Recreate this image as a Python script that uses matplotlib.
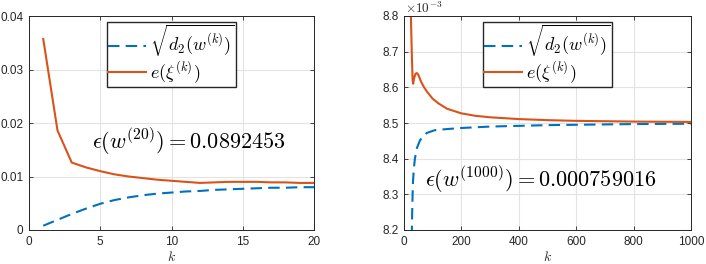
import matplotlib
matplotlib.use("Agg")
import matplotlib.pyplot as plt
from matplotlib.ticker import FuncFormatter

plt.rcParams['font.family'] = ['Liberation Sans', 'DejaVu Sans']
plt.rcParams['mathtext.fontset'] = 'cm'

# ---- left panel data (20 iterations) ----
k_left = list(range(1, 21))
d2_left = [0.0008, 0.0019, 0.0030, 0.0040, 0.0049, 0.0056, 0.0061, 0.0065, 0.0068, 0.0070,
           0.0072, 0.0073, 0.0075, 0.0076, 0.0077, 0.0078, 0.0079, 0.0079, 0.0080, 0.0080]
e_left = [0.0357, 0.0186, 0.0126, 0.0117, 0.0110, 0.0104, 0.0100, 0.0097, 0.0094, 0.0092,
          0.0090, 0.0088, 0.0089, 0.0090, 0.0090, 0.0090, 0.0089, 0.0089, 0.0088, 0.0088]

# ---- right panel data (1000 iterations, values in units of 1e-3) ----
k_right_d2 = [27, 29, 31, 34, 38, 45, 56, 79, 108, 150, 200, 250, 300, 400, 500, 600, 800, 1000]
d2_right = [8.18, 8.27, 8.33, 8.37, 8.40, 8.43, 8.452, 8.472, 8.480, 8.483, 8.486, 8.488,
            8.490, 8.492, 8.494, 8.495, 8.497, 8.498]
k_right_e = [21, 24, 27, 30, 32, 35, 40, 45, 50, 60, 70, 80, 100, 120, 150, 200, 250, 300,
             400, 500, 600, 800, 1000]
e_right = [8.95, 8.80, 8.70, 8.62, 8.61, 8.625, 8.638, 8.640, 8.635, 8.615, 8.600, 8.588,
           8.568, 8.555, 8.540, 8.527, 8.520, 8.516, 8.511, 8.508, 8.506, 8.504, 8.503]

left_xticks = [0, 5, 10, 15, 20]
left_yticks = [0, 0.01, 0.02, 0.03, 0.04]
right_xticks = [0, 200, 400, 600, 800, 1000]
right_yticks = [8.2, 8.3, 8.4, 8.5, 8.6, 8.7, 8.8]

BLUE = '#0072BD'
RED = '#D95319'
AXC = '#262626'
DASH = (5.5, 3.0)

fig = plt.figure(figsize=(7.06, 2.64), dpi=100)
ax1 = fig.add_axes([29/706, 34/264, 285/706, 214/264])
ax2 = fig.add_axes([404/706, 34/264, 287/706, 214/264])

def style(ax):
    ax.grid(True, color='#e3e3e3', lw=0.8)
    ax.set_axisbelow(True)
    for s in ax.spines.values():
        s.set_color(AXC)
        s.set_linewidth(0.7)
    ax.tick_params(direction='in', length=3, width=0.6, colors=AXC, labelsize=8.5,
                   top=True, right=True, pad=4)
    ax.set_xlabel('$k$', fontsize=10, labelpad=2, color=AXC)

def make_legend(ax, handles):
    ax.legend(handles, [r'$\sqrt{d_2(w^{(k)})}$', r'$e(\xi^{(k)})$'], loc='upper center',
              bbox_to_anchor=(0.5, 0.97), fontsize=13, frameon=True, fancybox=False,
              edgecolor=AXC, framealpha=1, handlelength=2.1, borderpad=0.05,
              labelspacing=0.0, handletextpad=0.25, borderaxespad=0.0)

fmt = FuncFormatter(lambda v, p: '%g' % round(v, 6))

l1, = ax1.plot(k_left, d2_left, color=BLUE, lw=1.5, dashes=DASH)
l2, = ax1.plot(k_left, e_left, color=RED, lw=1.5)
ax1.set_xlim(0, 20)
ax1.set_ylim(0, 0.04)
ax1.set_xticks(left_xticks)
ax1.set_yticks(left_yticks)
ax1.xaxis.set_major_formatter(fmt)
ax1.yaxis.set_major_formatter(fmt)
style(ax1)
make_legend(ax1, [l1, l2])
ax1.text(0.221, 0.413, r'$\epsilon(w^{(20)}) = 0.0892453$', transform=ax1.transAxes,
         fontsize=16, va='center', ha='left')

l3, = ax2.plot(k_right_d2, d2_right, color=BLUE, lw=1.5, dashes=DASH)
l4, = ax2.plot(k_right_e, e_right, color=RED, lw=1.5)
ax2.set_xlim(0, 1000)
ax2.set_ylim(8.2, 8.8)
ax2.set_xticks(right_xticks)
ax2.set_yticks(right_yticks)
ax2.xaxis.set_major_formatter(fmt)
ax2.yaxis.set_major_formatter(FuncFormatter(lambda v, p: '%.1f' % v))
style(ax2)
make_legend(ax2, [l3, l4])
ax2.text(0.073, 0.234, r'$\epsilon(w^{(1000)}) = 0.000759016$', transform=ax2.transAxes,
         fontsize=16, va='center', ha='left')
ax2.text(0.005, 1.0, r'$\times10^{-3}$', transform=ax2.transAxes, fontsize=9.5,
         va='bottom', ha='left', color=AXC, family='DejaVu Sans')

fig.savefig('out.png', dpi=100)
